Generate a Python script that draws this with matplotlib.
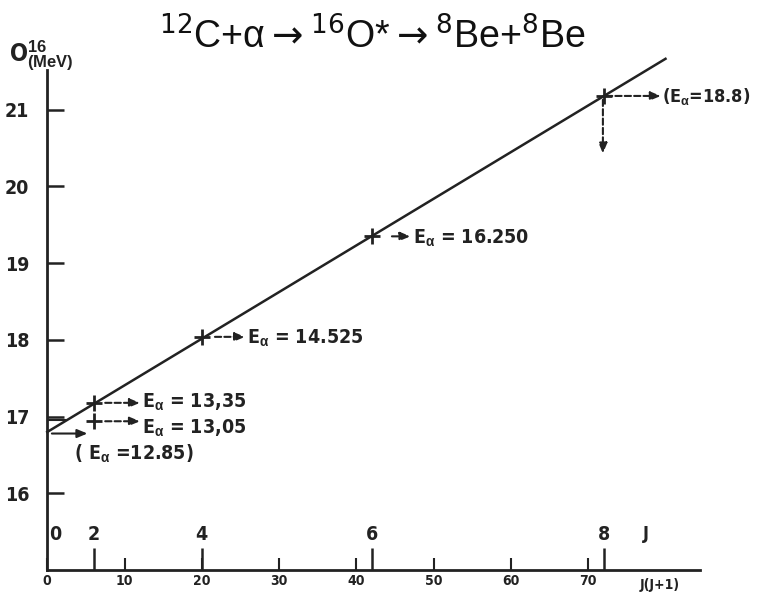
import matplotlib
matplotlib.use("Agg")
import matplotlib.pyplot as plt
import numpy as np

plt.rcParams["mathtext.fontset"] = "custom"
plt.rcParams["mathtext.rm"] = "Liberation Sans"
plt.rcParams["mathtext.it"] = "Liberation Sans:italic"
plt.rcParams["mathtext.bf"] = "Liberation Sans:bold"

# Level energies of 16O* versus J(J+1)
spins = [0, 2, 4, 6, 8]
jj1 = [j * (j + 1) for j in spins]
cross_x = [6, 6, 20, 42, 72]
cross_y = [17.18, 16.94, 18.04, 19.35, 21.18]
ealpha_labels = ["13,35", "13,05", "14.525", "16.250", "18.8"]

# Straight-line band fit E = E0 + k * J(J+1)
fit_e0 = 16.80
fit_slope = 0.0608
fit_xmax = 80.0

yticks = [16, 17, 18, 19, 20, 21]
xticks = [0, 10, 20, 30, 40, 50, 60, 70]

INK = "#222222"
lab_kw = dict(family="DejaVu Sans", fontstretch="condensed",
              fontweight="bold", color=INK)

fig = plt.figure(figsize=(7.62, 5.92), dpi=100)
ax = fig.add_axes([0.062, 0.037, 0.857, 0.845])
ax.set_xlim(0, 84.5)
ax.set_ylim(15.0, 21.52)

for s in ["top", "right"]:
    ax.spines[s].set_visible(False)
for s in ["left", "bottom"]:
    ax.spines[s].set_linewidth(2.0)
    ax.spines[s].set_color(INK)

ax.set_yticks(yticks)
ax.set_yticklabels([str(v) for v in yticks], fontsize=14, **lab_kw)
ax.tick_params(axis="y", direction="in", length=12, width=1.8, pad=13,
               colors=INK)
ax.set_xticks(xticks)
ax.set_xticklabels([str(v) for v in xticks], fontsize=10, **lab_kw)
ax.tick_params(axis="x", direction="in", length=9, width=1.5, pad=3,
               colors=INK)

# J markers: longer ticks with spin labels above them
for j, x in zip(spins, jj1):
    if x > 0:
        ax.plot([x, x], [15.0, 15.29], color=INK, lw=1.8,
                solid_capstyle="butt")
    ax.text(x + (1.0 if x == 0 else 0), 15.46, str(j), fontsize=14,
            ha="center", va="center", **lab_kw)
ax.text(77.5, 15.47, "J", fontsize=13, ha="center", va="center", **lab_kw)
ax.text(79.3, 14.9, "J(J+1)", fontsize=10, ha="center", va="top", **lab_kw)

# Fitted line (runs slightly above the top of the energy axis)
xs = np.array([0.0, fit_xmax])
ax.plot(xs, fit_e0 + fit_slope * xs, color=INK, lw=1.8, clip_on=False)

# Measured levels
ax.plot(cross_x, cross_y, ls="none", marker="+", ms=11, mew=2.0, color=INK)

# Second short stub next to the 17 MeV tick
ax.plot([0, 2.3], [16.95, 16.95], color=INK, lw=1.5)

arrow_kw = dict(arrowstyle="-|>,head_length=0.6,head_width=0.25",
                color=INK, lw=1.5, linestyle=(0, (3, 1.5)),
                shrinkA=0, shrinkB=0)
txt_kw = dict(fontsize=14, va="center", **lab_kw)

# Entrance-energy annotations
offsets = [(7.5, 12.0, 12.3), (7.5, 12.0, 12.3), (21.7, 25.6, 25.9),
           (44.6, 47.0, 47.3)]
text_y = [17.2, 16.86, 18.03, 19.33]
for (x0, x1, xt), y, ty, lab in zip(offsets, cross_y[:4], text_y,
                                    ealpha_labels[:4]):
    ax.annotate("", xy=(x1, y), xytext=(x0, y), arrowprops=arrow_kw)
    ax.text(xt, ty, r"E$_{\mathbf{\alpha}}$ = " + lab, **txt_kw)

# Threshold arrow from the axis
solid_kw = dict(arrow_kw)
solid_kw["linestyle"] = "-"
ax.annotate("", xy=(5.2, 16.78), xytext=(0.6, 16.78), arrowprops=solid_kw)
ax.text(3.4, 16.53, r"( E$_{\mathbf{\alpha}}$ =12.85)", **txt_kw)

# Highest level: horizontal and vertical dashed arrows
ax.annotate("", xy=(79.4, cross_y[4]), xytext=(72.3, cross_y[4]),
            arrowprops=arrow_kw)
ax.annotate("", xy=(71.9, 20.43), xytext=(71.9, cross_y[4] - 0.05),
            arrowprops=arrow_kw)
ax.text(79.5, cross_y[4] - 0.01, r"(E$_{\mathbf{\alpha}}$=18.8)",
        clip_on=False, **dict(txt_kw, fontsize=13))

# Axis name and reaction title
fig.text(0.012, 0.905, r"O$^{\mathbf{16}}_{\mathbf{(MeV)}}$", fontsize=17,
         ha="left", va="center", **lab_kw)
fig.text(0.488, 0.938,
         r"$^{12}$C+α$\rightarrow$$^{16}$O*$\rightarrow$$^{8}$Be+$^{8}$Be",
         family=["Liberation Sans", "DejaVu Sans"], fontsize=27,
         math_fontfamily="dejavusans",
         ha="center", va="center", color="#111111")

fig.savefig("out.png", dpi=100)
